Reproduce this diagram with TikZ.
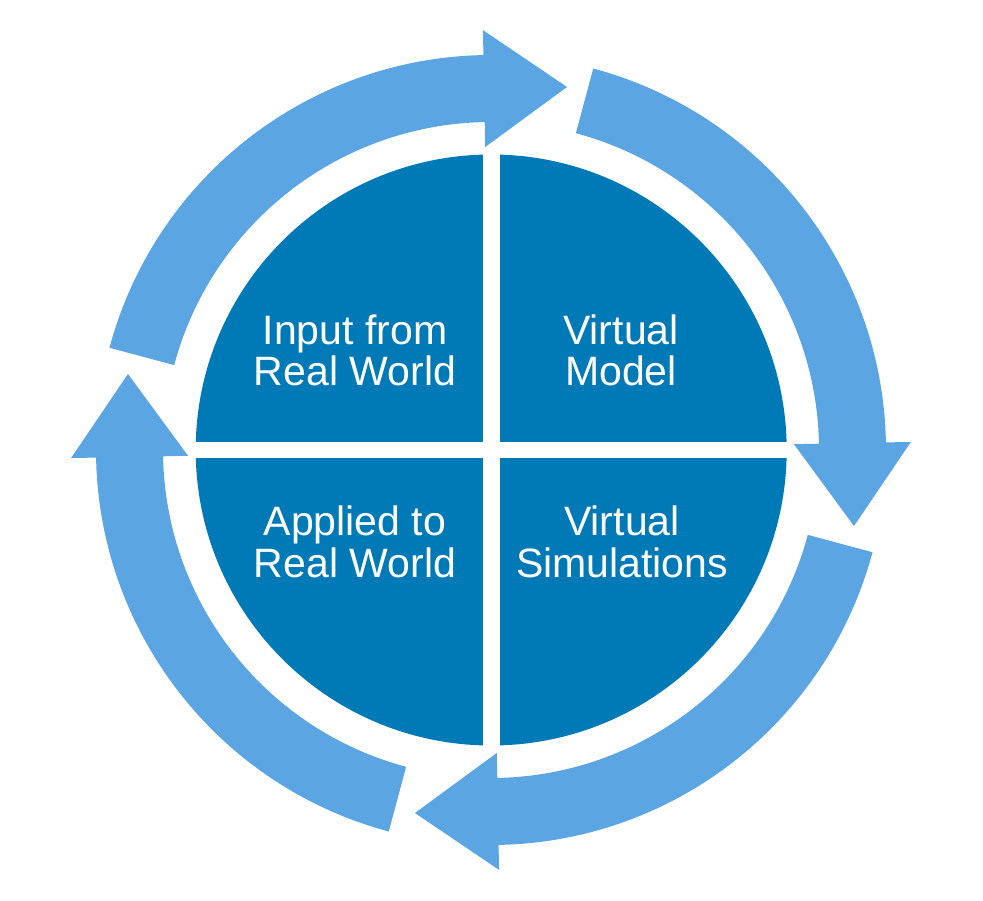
\documentclass[tikz,border=0pt]{standalone}
\usepackage{fontspec}
\setmainfont{Liberation Sans}
\definecolor{ringblue}{RGB}{91,165,227}
\definecolor{quadblue}{RGB}{0,122,183}
\begin{document}
\begin{tikzpicture}[x=1pt,y=1pt,
  ringarrow/.style={fill=ringblue},
  label/.style={text=white,align=center,inner sep=0pt,font=\fontsize{41}{41.5}\selectfont}]
\useasboundingbox (-491,-450) rectangle (492,450);
% outer cycle arrows (each drawn with head base at 0 deg, then rotated)
\foreach \r in {1.1,91.1,181.1,271.1}{
  \begin{scope}[rotate=\r]
    \fill[ringarrow] (73.9:395) arc[start angle=73.9, end angle=0, radius=395]
      -- (0:420) -- (361.5,-83) -- (0:303) -- (0:328)
      arc[start angle=0, end angle=73.9, radius=328] -- cycle;
  \end{scope}
}
% central disc split into quadrants
\fill[quadblue] (0.2,0) circle[radius=295.5];
\fill[white] (-8.3,-300) rectangle (8.7,300);
\fill[white] (-300,-8.3) rectangle (300,8.3);
% labels
\node[label] (input) at (-136,99.5) {Input from\\Real World};
\node[label] (model) at (130,99.5) {Virtual\\Model};
\node[label] (applied) at (-136,-92) {Applied to\\Real World};
\node[label] (sims) at (131,-92) {Virtual\\Simulations};
\end{tikzpicture}
\end{document}
